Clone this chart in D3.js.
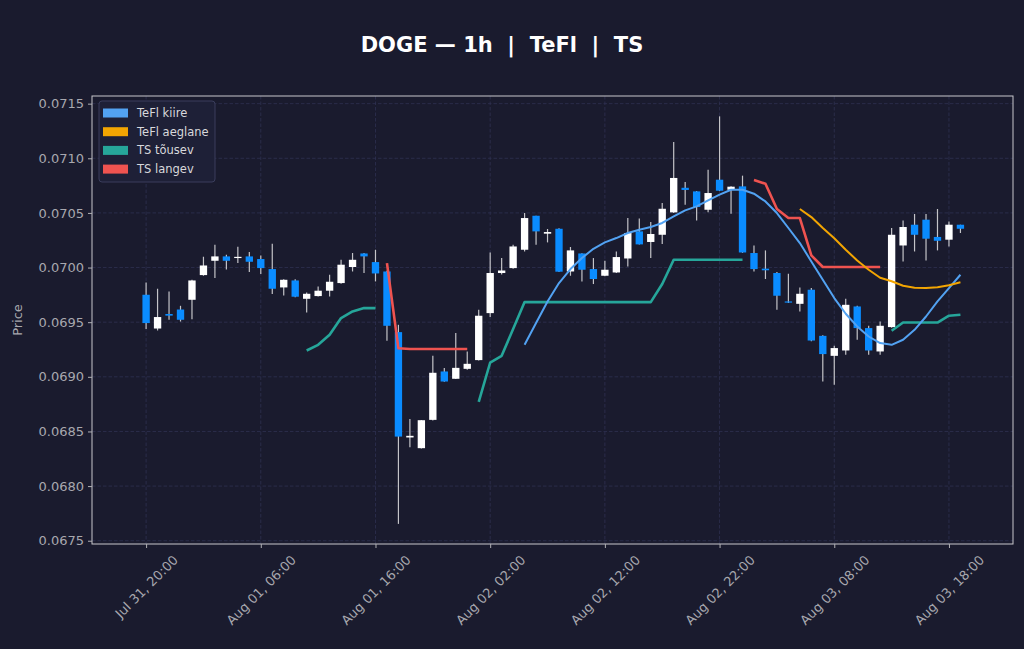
<!DOCTYPE html>
<html lang="en">
<head>
<meta charset="UTF-8">
<title>DOGE — 1h | TeFl | TS</title>
<script src="https://cdnjs.cloudflare.com/ajax/libs/d3/7.8.5/d3.min.js"></script>
<style>
  html, body { margin: 0; padding: 0; background: #1a1b2e; }
  svg { display: block; font-family: "DejaVu Sans", sans-serif; }
</style>
</head>
<body>
<svg id="chart" width="1024" height="649"></svg>
<script>
// hourly candles, first one at Jul 31 20:00
const startTime = new Date(2023, 6, 31, 20, 0);

const open = [
  0.069751, 0.069442, 0.069575, 0.069616, 0.069705, 0.069931, 0.070062, 0.070102, 0.070088, 0.070102,
  0.070078, 0.069986, 0.069818, 0.069882, 0.069714, 0.069739, 0.069788, 0.069858, 0.070005, 0.070129,
  0.070050, 0.069964, 0.069409, 0.068445, 0.068347, 0.068606, 0.069049, 0.068982, 0.069073, 0.069153,
  0.069583, 0.069950, 0.069995, 0.070163, 0.070474, 0.070310, 0.070355, 0.069964, 0.070129, 0.069986,
  0.069925, 0.069955, 0.070083, 0.070331, 0.070234, 0.070300, 0.070505, 0.070730, 0.070697, 0.070529,
  0.070804, 0.070712, 0.070743, 0.070133, 0.069990, 0.069950, 0.069690, 0.069668, 0.069797, 0.069375,
  0.069192, 0.069241, 0.069644, 0.069446, 0.069232, 0.069455, 0.070202, 0.070392, 0.070438, 0.070280,
  0.070255, 0.070392
];
const high = [
  0.069864, 0.069806, 0.069781, 0.069650, 0.069888, 0.070099, 0.070209, 0.070117, 0.070190, 0.070142,
  0.070111, 0.070218, 0.069893, 0.069893, 0.069772, 0.069827, 0.069934, 0.070071, 0.070133, 0.070133,
  0.070163, 0.069970, 0.069476, 0.068615, 0.068605, 0.069192, 0.069080, 0.069400, 0.069232, 0.069614,
  0.070138, 0.070087, 0.070209, 0.070499, 0.070475, 0.070353, 0.070360, 0.070188, 0.070130, 0.070087,
  0.070062, 0.070147, 0.070453, 0.070450, 0.070417, 0.070591, 0.071149, 0.070783, 0.070700, 0.070896,
  0.071384, 0.070745, 0.070841, 0.070202, 0.070157, 0.069960, 0.069943, 0.069818, 0.069812, 0.069380,
  0.069284, 0.069714, 0.069650, 0.069467, 0.069506, 0.070362, 0.070431, 0.070490, 0.070490, 0.070536,
  0.070422, 0.070392
];
const low = [
  0.069437, 0.069424, 0.069522, 0.069506, 0.069528, 0.069925, 0.069904, 0.069983, 0.070041, 0.069959,
  0.069940, 0.069757, 0.069745, 0.069728, 0.069589, 0.069735, 0.069735, 0.069852, 0.069964, 0.069950,
  0.069873, 0.069330, 0.067654, 0.068356, 0.068345, 0.068600, 0.068955, 0.068980, 0.069064, 0.069150,
  0.069547, 0.069937, 0.069990, 0.070147, 0.070209, 0.070230, 0.069960, 0.069925, 0.069873, 0.069849,
  0.069920, 0.069950, 0.070010, 0.070210, 0.070087, 0.070215, 0.070500, 0.070575, 0.070431, 0.070505,
  0.070700, 0.070493, 0.070135, 0.069964, 0.069895, 0.069614, 0.069675, 0.069598, 0.069325, 0.068957,
  0.068927, 0.069201, 0.069339, 0.069201, 0.069201, 0.069450, 0.070056, 0.070147, 0.070065, 0.070157,
  0.070193, 0.070316
];
const close = [
  0.069492, 0.069547, 0.069560, 0.069522, 0.069882, 0.070019, 0.070102, 0.070062, 0.070098, 0.070053,
  0.069995, 0.069806, 0.069888, 0.069733, 0.069760, 0.069788, 0.069870, 0.070026, 0.070071, 0.070102,
  0.069946, 0.069467, 0.068453, 0.068460, 0.068603, 0.069037, 0.068957, 0.069082, 0.069119, 0.069559,
  0.069950, 0.069973, 0.070193, 0.070453, 0.070331, 0.070325, 0.069962, 0.070157, 0.069980, 0.069895,
  0.069980, 0.070096, 0.070316, 0.070212, 0.070307, 0.070538, 0.070820, 0.070710, 0.070554, 0.070682,
  0.070703, 0.070740, 0.070138, 0.069986, 0.069975, 0.069742, 0.069680, 0.069760, 0.069332, 0.069208,
  0.069263, 0.069659, 0.069446, 0.069241, 0.069467, 0.070300, 0.070371, 0.070300, 0.070264, 0.070245,
  0.070392, 0.070355
];

const gap = n => Array(n).fill(null);

// TeFl fast / slow (start part way through the data)
const tefliKiire = gap(33).concat([
  0.069293, 0.069492, 0.069690, 0.069858, 0.069986, 0.070087, 0.070172, 0.070230, 0.070270, 0.070316,
  0.070346, 0.070371, 0.070408, 0.070468, 0.070523, 0.070560, 0.070614, 0.070667, 0.070712, 0.070712,
  0.070676, 0.070605, 0.070499, 0.070362, 0.070224, 0.070056, 0.069888, 0.069721, 0.069577, 0.069461,
  0.069369, 0.069309, 0.069293, 0.069339, 0.069430, 0.069552, 0.069690, 0.069812, 0.069934
]);
const tefliAeglane = gap(57).concat([
  0.070536, 0.070462, 0.070362, 0.070268, 0.070163, 0.070065, 0.069980, 0.069907, 0.069875, 0.069833,
  0.069815, 0.069812, 0.069820, 0.069838, 0.069865
]);

// TS trailing stop, rising and falling legs
const tsTousev = gap(14).concat(
  [0.069241, 0.069293, 0.069385, 0.069538, 0.069598, 0.069629, 0.069629],
  gap(8),
  [0.068771, 0.069131, 0.069192, 0.069437],
  [0.069684, 0.069684, 0.069684, 0.069684, 0.069684, 0.069684, 0.069684, 0.069684, 0.069684, 0.069684, 0.069684, 0.069684],
  [0.069849],
  [0.070071, 0.070071, 0.070071, 0.070071, 0.070071, 0.070071, 0.070071],
  gap(12),
  [0.069421, 0.069497, 0.069497, 0.069497, 0.069497, 0.069559, 0.069568]
);
const tsLangev = gap(21).concat(
  [0.070041, 0.069261, 0.069255, 0.069255, 0.069255, 0.069255, 0.069255, 0.069255],
  gap(24),
  [0.070801, 0.070767, 0.070536, 0.070453, 0.070453, 0.070111, 0.070005, 0.070005, 0.070005, 0.070005, 0.070005, 0.070005],
  gap(7)
);

const yTicks = [0.0675, 0.0680, 0.0685, 0.0690, 0.0695, 0.0700, 0.0705, 0.0710, 0.0715];
const xTickIndex = [0, 10, 20, 30, 40, 50, 60, 70];
const xTickLabels = ["Jul 31, 20:00", "Aug 01, 06:00", "Aug 01, 16:00", "Aug 02, 02:00",
  "Aug 02, 12:00", "Aug 02, 22:00", "Aug 03, 08:00", "Aug 03, 18:00"];

const legendItems = [
  { label: "TeFl kiire", color: "#52a2f2" },
  { label: "TeFl aeglane", color: "#f2a502" },
  { label: "TS tõusev", color: "#26a69a" },
  { label: "TS langev", color: "#ef5350" }
];

const width = 1024;
const height = 649;
const margin = { top: 96, right: 11, bottom: 105, left: 92 };

const times = open.map((d, i) => d3.timeHour.offset(startTime, i));
const candles = times.map((t, i) => ({ t, o: open[i], h: high[i], l: low[i], c: close[i] }));

const svg = d3.select("#chart");
svg.append("rect").attr("width", width).attr("height", height).attr("fill", "#1a1b2e");

const x = d3.scaleTime()
  .domain([d3.timeMinute.offset(startTime, -283), d3.timeMinute.offset(startTime, 4535)])
  .range([margin.left, width - margin.right]);

const y = d3.scaleLinear()
  .domain([0.06747, 0.07157])
  .range([height - margin.bottom, margin.top]);

const step = x(times[1]) - x(times[0]);
const bodyW = step * 0.64;

// grid
const grid = svg.append("g").attr("stroke", "#2e3150").attr("stroke-width", 0.8).attr("stroke-dasharray", "3.5,2");
grid.selectAll(".gy").data(yTicks).enter().append("line")
  .attr("x1", margin.left).attr("x2", width - margin.right)
  .attr("y1", d => y(d)).attr("y2", d => y(d));
grid.selectAll(".gx").data(xTickIndex).enter().append("line")
  .attr("x1", d => x(times[d])).attr("x2", d => x(times[d]))
  .attr("y1", margin.top).attr("y2", height - margin.bottom);

// candles
const cg = svg.append("g");
cg.selectAll(".wick").data(candles).enter().append("line")
  .attr("x1", d => x(d.t)).attr("x2", d => x(d.t))
  .attr("y1", d => y(d.h)).attr("y2", d => y(d.l))
  .attr("stroke", "#c4c4c8").attr("stroke-width", 1.2);
cg.selectAll(".body").data(candles).enter().append("rect")
  .attr("x", d => x(d.t) - bodyW / 2)
  .attr("width", bodyW)
  .attr("y", d => y(Math.max(d.o, d.c)))
  .attr("height", d => Math.max(1.2, Math.abs(y(d.o) - y(d.c))))
  .attr("fill", d => d.c >= d.o ? "#ffffff" : "#0a8cff");

// indicator lines
const line = d3.line()
  .defined(d => d.v !== null)
  .x(d => x(d.t))
  .y(d => y(d.v));

const series = [
  { values: tsTousev, color: "#26a69a", w: 2.6 },
  { values: tsLangev, color: "#ef5350", w: 2.6 },
  { values: tefliKiire, color: "#52a2f2", w: 2 },
  { values: tefliAeglane, color: "#f2a502", w: 2 }
];
series.forEach(s => {
  svg.append("path")
    .datum(s.values.map((v, i) => ({ t: times[i], v })))
    .attr("fill", "none")
    .attr("stroke", s.color)
    .attr("stroke-width", s.w)
    .attr("stroke-linejoin", "round")
    .attr("d", line);
});

// frame
svg.append("rect")
  .attr("x", margin.left).attr("y", margin.top)
  .attr("width", width - margin.left - margin.right)
  .attr("height", height - margin.top - margin.bottom)
  .attr("fill", "none").attr("stroke", "#c8c8cc").attr("stroke-width", 1);

// axes
const yAxis = svg.append("g")
  .attr("transform", `translate(${margin.left},0)`)
  .call(d3.axisLeft(y).tickValues(yTicks).tickFormat(d3.format(".4f")).tickSize(4).tickPadding(4));
const xAxis = svg.append("g")
  .attr("transform", `translate(0,${height - margin.bottom})`)
  .call(d3.axisBottom(x).tickValues(xTickIndex.map(i => times[i]))
    .tickFormat((d, i) => xTickLabels[i]).tickSize(4));

[yAxis, xAxis].forEach(a => {
  a.select(".domain").remove();
  a.selectAll(".tick line").attr("stroke", "#b0b0b4");
  a.selectAll(".tick text").attr("fill", "#a8a8ae").style("font-size", "13px")
    .style("font-family", "DejaVu Sans, sans-serif");
});

xAxis.selectAll(".tick text").each(function () {
  const t = d3.select(this);
  t.attr("x", 0).attr("y", 0).attr("dy", "0.35em").attr("text-anchor", "middle");
  const L = this.getComputedTextLength();
  const half = (L + 13) * 0.7071 / 2;
  t.attr("transform", `translate(0,${9 + half}) rotate(-45)`);
});

svg.append("text")
  .attr("transform", `translate(22,${(margin.top + height - margin.bottom) / 2}) rotate(-90)`)
  .attr("text-anchor", "middle")
  .attr("fill", "#a8a8ae")
  .style("font-size", "13px")
  .text("Price");

svg.append("text")
  .attr("x", 502).attr("y", 52)
  .attr("text-anchor", "middle")
  .attr("fill", "#ffffff")
  .style("font-size", "21px")
  .style("font-weight", "bold")
  .text("DOGE — 1h  |  TeFl  |  TS")
  .attr("xml:space", "preserve")
  .style("white-space", "pre");

// legend
const lg = svg.append("g").attr("transform", "translate(99,101)");
lg.append("rect")
  .attr("width", 116).attr("height", 81).attr("rx", 3)
  .attr("fill", "#1e2037").attr("stroke", "#3a3d5c").attr("stroke-width", 1);
legendItems.forEach((d, i) => {
  const g = lg.append("g").attr("transform", `translate(0,${12 + i * 18.7})`);
  g.append("rect").attr("x", 4).attr("y", -4.5).attr("width", 25).attr("height", 9).attr("fill", d.color);
  g.append("text").attr("x", 38).attr("y", 0).attr("dy", "0.35em")
    .attr("fill", "#d8d8dc").style("font-size", "11.5px").text(d.label);
});
</script>
</body>
</html>
